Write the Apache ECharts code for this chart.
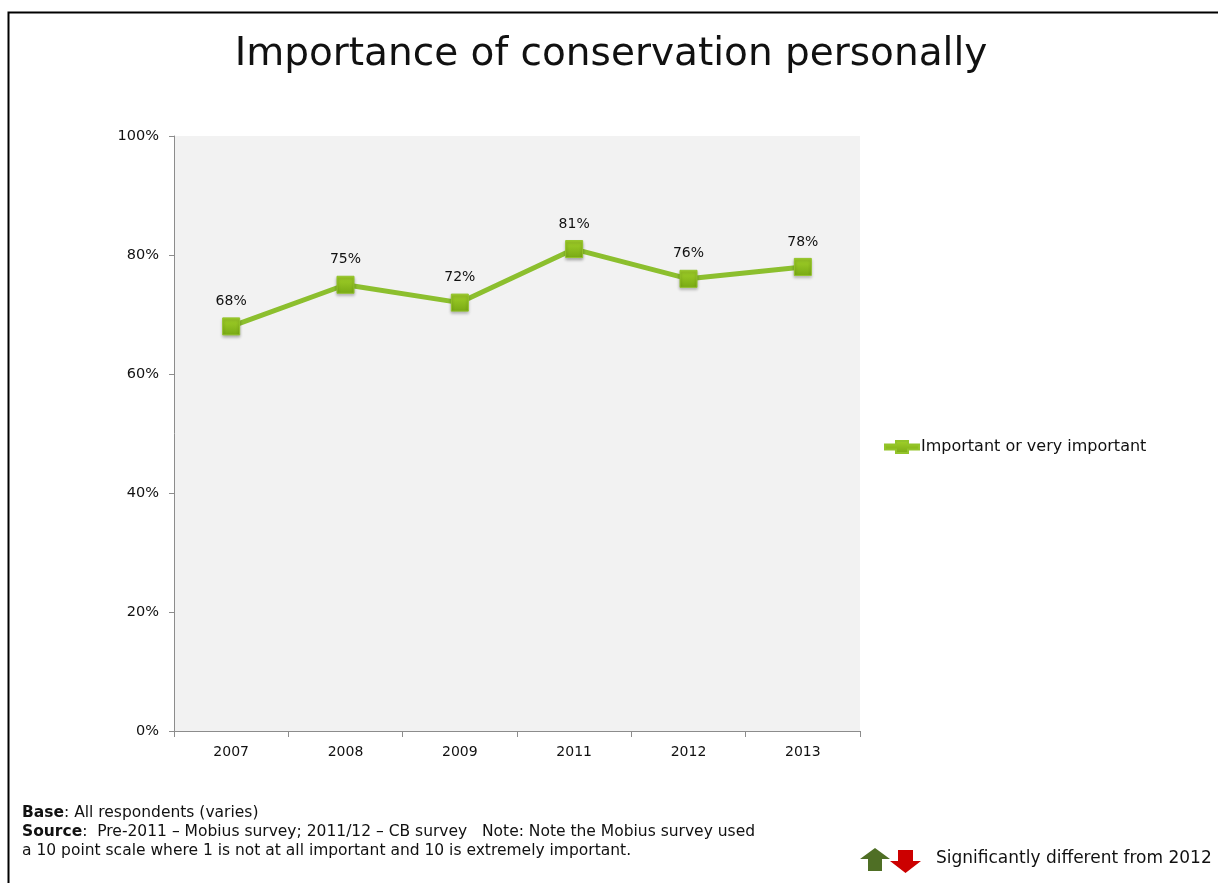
<!DOCTYPE html>
<html>
<head>
<meta charset="utf-8">
<style>
  html, body { margin: 0; padding: 0; background: #ffffff; }
  #chart { width: 1218px; height: 883px; }
</style>
<script src="https://cdn.jsdelivr.net/npm/echarts@6/dist/echarts.min.js"></script>
</head>
<body>
<div id="chart"></div>
<script>
// Survey years and share rating conservation important or very important (%)
const years = ['2007', '2008', '2009', '2011', '2012', '2013'];
const importantShare = [68, 75, 72, 81, 76, 78];
const seriesName = 'Important or very important';
const yTicks = [0, 20, 40, 60, 80, 100];

const FONT = '"DejaVu Sans", sans-serif';
const GREEN = '#8cbf2e';

const chart = echarts.init(document.getElementById('chart'), null, { renderer: 'canvas' });

const option = {
  animation: false,
  backgroundColor: '#ffffff',
  textStyle: { fontFamily: FONT },
  title: {
    text: 'Importance of conservation personally',
    left: 606,
    textAlign: 'center',
    top: 30,
    textStyle: { fontFamily: FONT, fontSize: 39, fontWeight: 'normal', color: '#111111' }
  },
  legend: {
    data: [seriesName],
    left: 879,
    top: 434,
    itemWidth: 34,
    itemHeight: 12,
    itemGap: 0,
    textStyle: { fontFamily: FONT, fontSize: 16, color: '#111111', padding: [0, 0, 0, -3] },
    icon: 'path://M0,3.5 L11,3.5 L11,0 L23,0 L23,3.5 L34,3.5 L34,8.5 L23,8.5 L23,12 L11,12 L11,8.5 L0,8.5 Z'
  },
  grid: {
    left: 174,
    right: 1218 - 860,
    top: 136,
    bottom: 883 - 731,
    show: true,
    backgroundColor: '#f2f2f2',
    borderWidth: 0
  },
  xAxis: {
    type: 'category',
    data: years,
    boundaryGap: true,
    axisLine: { show: true, lineStyle: { color: '#8c8c8c', width: 1 } },
    axisTick: { show: true, alignWithLabel: false, length: 6, lineStyle: { color: '#8c8c8c' } },
    axisLabel: { fontFamily: FONT, fontSize: 14, color: '#111111', margin: 14 }
  },
  yAxis: {
    type: 'value',
    min: 0,
    max: 100,
    interval: 20,
    axisLine: { show: true, lineStyle: { color: '#8c8c8c', width: 1 } },
    axisTick: { show: true, length: 5, lineStyle: { color: '#8c8c8c' } },
    splitLine: { show: false },
    axisLabel: {
      fontFamily: FONT, fontSize: 14.5, color: '#111111', margin: 15,
      formatter: v => (yTicks.includes(v) ? v + '%' : '')
    }
  },
  series: [{
    name: seriesName,
    type: 'line',
    data: importantShare,
    symbol: 'rect',
    symbolSize: 17,
    lineStyle: { color: GREEN, width: 5 },
    itemStyle: {
      color: new echarts.graphic.LinearGradient(0, 0, 0, 1, [
        { offset: 0, color: '#a3d22a' },
        { offset: 1, color: '#78a914' }
      ]),
      borderColor: '#93c42a',
      borderWidth: 1,
      shadowColor: 'rgba(0,0,0,0.3)',
      shadowBlur: 3,
      shadowOffsetY: 2
    },
    label: {
      show: true,
      position: 'top',
      distance: 9,
      fontFamily: FONT,
      fontSize: 14,
      color: '#111111',
      formatter: p => p.value + '%'
    }
  }],
  graphic: [
    // slide frame
    {
      type: 'rect',
      shape: { x: 8.5, y: 12.5, width: 1240, height: 900 },
      style: { fill: 'none', stroke: '#000000', lineWidth: 2 },
      silent: true
    },
    {
      type: 'text',
      left: 22,
      top: 803,
      style: {
        text: '{b|Base}: All respondents (varies)\n{b|Source}:  Pre-2011 \u2013 Mobius survey; 2011/12 \u2013 CB survey   Note: Note the Mobius survey used\na 10 point scale where 1 is not at all important and 10 is extremely important.',
        fontFamily: FONT,
        fontSize: 15.5,
        lineHeight: 19,
        fill: '#111111',
        rich: {
          b: { fontFamily: FONT, fontSize: 15.5, fontWeight: 'bold', fill: '#111111', lineHeight: 19 }
        }
      }
    },
    // significance key arrows
    {
      type: 'polygon',
      shape: { points: [[875, 848], [860, 859], [868, 859], [868, 871], [882, 871], [882, 859], [890, 859]] },
      style: { fill: '#4f6f25' }
    },
    {
      type: 'polygon',
      shape: { points: [[898, 850], [898, 861], [890, 861], [905.5, 873], [921, 861], [913, 861], [913, 850]] },
      style: { fill: '#cc0000' }
    },
    {
      type: 'text',
      left: 936,
      top: 850,
      style: { text: 'Significantly different from 2012', fontFamily: FONT, fontSize: 17, fill: '#111111' }
    }
  ]
};

chart.setOption(option);
</script>
</body>
</html>
